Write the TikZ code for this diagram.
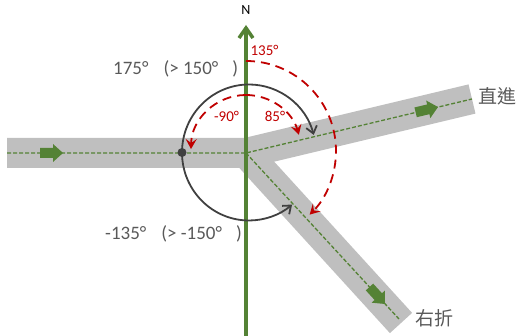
\documentclass[tikz,border=0pt]{standalone}
\usepackage{fontspec}
\setmainfont{Carlito}
\newfontfamily\cjk{Noto Sans CJK TC}
\definecolor{myg}{RGB}{84, 130, 53}
\definecolor{myr}{RGB}{192, 0, 0}
\definecolor{myk}{RGB}{64, 64, 64}
\definecolor{myt}{RGB}{89, 89, 89}
\definecolor{road}{RGB}{191, 191, 191}
\usetikzlibrary{arrows.meta, positioning}
\tikzset{
	lane/.style={line width=30pt, road, line join=miter},
	guide/.style={myg, line width=1.3pt, dash pattern=on 4pt off 2pt},
	turn/.style={myk, line width=1.8pt, -{Straight Barb[length=7pt, width=11pt, line width=1.8pt]}},
	redarc/.style={myr, line width=1.8pt, dash pattern=on 9pt off 6pt, -{Stealth[length=10pt, width=11pt, inset=4pt]}},
	lbl/.style={myt, font=\fontsize{19}{22}\selectfont, inner sep=0pt},
	redlbl/.style={myr, font=\fontsize{15}{17}\selectfont, inner sep=0pt}
}
\begin{document}
\begin{tikzpicture}[x=1pt, y=1pt]
	\useasboundingbox (0,0) rectangle (517,336);
	\coordinate (west) at (7,183);
	\coordinate (mid) at (246,183);
	\coordinate (ahead) at (472,237);
	\coordinate (right) at (401,13);
	\coordinate (rightend) at (399,17);
	\coordinate (south) at (246,0);
	\coordinate (north) at (246,311);
	% roads
	\draw[lane] (west) -- (mid) -- (ahead);
	\draw[lane] (mid) -- (right);
	\draw[guide] (west) -- (mid) -- (ahead);
	\draw[guide] (mid) -- (rightend);
	% small arrows on the roads
	\foreach \tipx/\tipy/\ang in {63/183/0, 438/229/13.4, 385/32/-47.6}
		\fill[myg, shift={(\tipx,\tipy)}, rotate=\ang] (0,0) -- (-10,9) -- (-10,5) -- (-23,5) -- (-23,-5) -- (-10,-5) -- (-10,-9) -- cycle;
	% north axis
	\draw[myg, line width=3.5pt, -{Straight Barb[length=10pt, width=14pt, line width=3.5pt]}] (south) -- (north);
	\node[font=\fontsize{14}{16}\selectfont, inner sep=0pt] (nlabel) at (246,326) {N};
	% turning angles
	\draw[turn] (182,183.5) arc[start angle=180, end angle=15, x radius=67, y radius=68];
	\draw[turn] (182,183.5) arc[start angle=180, end angle=310, x radius=67, y radius=68];
	\fill[myk] (182,183.5) circle (4.5);
	\draw[redarc] (246,275) arc[start angle=90, end angle=-45, radius=90];
	\draw[redarc] (246,241) arc[start angle=90, end angle=16, radius=55];
	\draw[redarc] (246,241) arc[start angle=90, end angle=179, radius=55];
	% labels
	\node[redlbl] (outerlbl) at (264.5,286) {135\textdegree};
	\node[redlbl] (leftlbl) at (226.5,220) {-90\textdegree};
	\node[redlbl] (aheadlbl) at (275,220) {85\textdegree};
	\node[lbl, anchor=west] (headlbl) at (113,267) {175\textdegree\hspace{15pt}(> 150\textdegree\hspace{14pt})};
	\node[lbl, anchor=west] (backlbl) at (105,102) {-135\textdegree\hspace{15pt}(> -150\textdegree\hspace{14pt})};
	\node[lbl] (straight) at (497,240) {\cjk 直進};
	\node[lbl] (rightturn) at (434,18) {\cjk 右折};
\end{tikzpicture}
\end{document}
